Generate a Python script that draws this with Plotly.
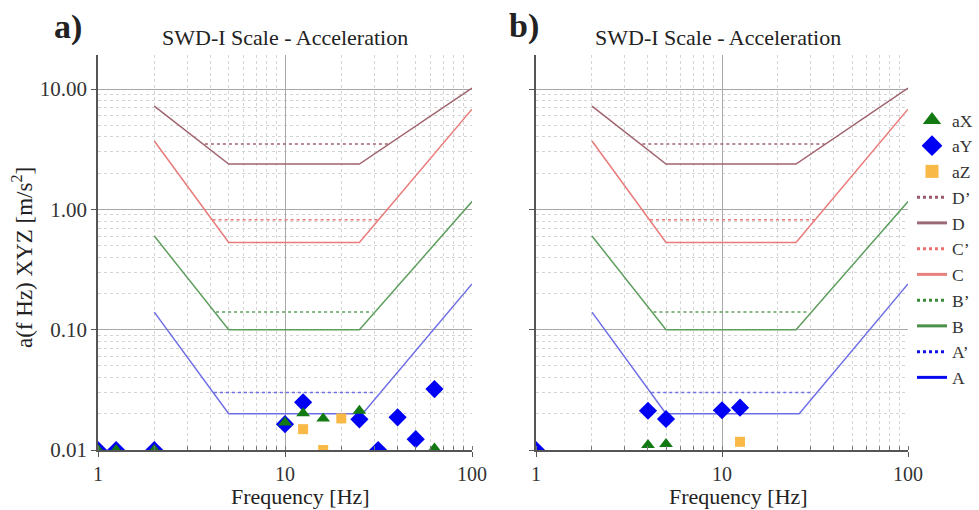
import plotly.graph_objects as go

# ---------------- data ----------------
# limit curves (frequency [Hz], acceleration [m/s^2])
freq_A = [2, 5, 26, 100]
acc_A = [0.14, 0.02, 0.02, 0.24]
freq_A1 = [4.17, 30.6]
acc_A1 = [0.03, 0.03]

freq_B = [2, 5, 25, 100]
acc_B = [0.6, 0.1, 0.1, 1.16]
freq_B1 = [4.28, 29.4]
acc_B1 = [0.14, 0.14]

freq_C = [2, 5, 25, 100]
acc_C = [3.7, 0.53, 0.53, 6.8]
freq_C1 = [4.1, 31.9]
acc_C1 = [0.82, 0.82]

freq_D = [2, 5, 25, 100]
acc_D = [7.2, 2.38, 2.38, 10.2]
freq_D1 = [3.73, 35.6]
acc_D1 = [3.5, 3.5]

# measured points, panel a)
a_fx = [1, 1.25, 2, 10, 12.5, 16, 25, 63]
a_ax = [0.01, 0.01, 0.01, 0.0169, 0.0202, 0.0183, 0.0212, 0.0103]
a_fy = [1, 1.25, 2, 10, 12.5, 25, 31.5, 40, 50, 63]
a_ay = [0.01, 0.01, 0.01, 0.0164, 0.0249, 0.018, 0.01, 0.0187, 0.0123, 0.0321]
a_fz = [12.5, 16, 20]
a_az = [0.0149, 0.01, 0.0183]

# measured points, panel b)
b_fx = [4, 5]
b_ax = [0.011, 0.0112]
b_fy = [1, 4, 5, 10, 12.5]
b_ay = [0.01, 0.0212, 0.0181, 0.0214, 0.0225]
b_fz = [12.5]
b_az = [0.0117]

y_tickvals = [0.01, 0.1, 1, 10]
y_ticktext = ["0.01", "0.10", "1.00", "10.00"]
x_tickvals = [1, 10, 100]
x_ticktext = ["1", "10", "100"]

# ---------------- styles ----------------
FONT = "Liberation Serif, Times New Roman, Times, serif"
W, H = 979, 510
col_line = {"A": "#6e6ee6", "B": "#5e9e5e", "C": "#ea7a7a", "D": "#a0646e"}
col_leg = {"A": "#0a0af0", "B": "#4a8f4a", "C": "#e98080", "D": "#9a6a76",
           "A'": "#1010e8", "B'": "#3a8a3a", "C'": "#ec7070", "D'": "#9a5a6a"}
c_x, c_y, c_z = "#137a13", "#0000f5", "#f8b946"

fig = go.Figure()

curves = [("D", freq_D, acc_D, freq_D1, acc_D1),
          ("C", freq_C, acc_C, freq_C1, acc_C1),
          ("B", freq_B, acc_B, freq_B1, acc_B1),
          ("A", freq_A, acc_A, freq_A1, acc_A1)]

panels = [("x", "y", (a_fx, a_ax), (a_fy, a_ay), (a_fz, a_az)),
          ("x2", "y2", (b_fx, b_ax), (b_fy, b_ay), (b_fz, b_az))]

for xa, ya, px, py, pz in panels:
    for name, f, a, f1, a1 in curves:
        fig.add_trace(go.Scatter(x=f, y=a, mode="lines", xaxis=xa, yaxis=ya,
                                 line=dict(color=col_line[name], width=1.5),
                                 showlegend=False, hoverinfo="skip"))
        fig.add_trace(go.Scatter(x=f1, y=a1, mode="lines", xaxis=xa, yaxis=ya,
                                 line=dict(color=col_line[name], width=1.5, dash="dot"),
                                 showlegend=False, hoverinfo="skip"))
    fig.add_trace(go.Scatter(x=pz[0], y=pz[1], mode="markers", xaxis=xa, yaxis=ya,
                             marker=dict(symbol="square", size=10, color=c_z),
                             showlegend=False))
    fig.add_trace(go.Scatter(x=py[0], y=py[1], mode="markers", xaxis=xa, yaxis=ya,
                             marker=dict(symbol="diamond", size=14, color=c_y),
                             showlegend=False))
    fig.add_trace(go.Scatter(x=px[0], y=px[1], mode="markers", xaxis=xa, yaxis=ya,
                             marker=dict(symbol="triangle-up", size=12, color=c_x),
                             showlegend=False))

# legend entries
fig.add_trace(go.Scatter(x=[None], y=[None], mode="markers", name="aX",
                         marker=dict(symbol="triangle-up", size=16, color=c_x)))
fig.add_trace(go.Scatter(x=[None], y=[None], mode="markers", name="aY",
                         marker=dict(symbol="diamond", size=18, color=c_y)))
fig.add_trace(go.Scatter(x=[None], y=[None], mode="markers", name="aZ",
                         marker=dict(symbol="square", size=13, color=c_z)))
for name in ["D", "C", "B", "A"]:
    fig.add_trace(go.Scatter(x=[None], y=[None], mode="lines", name=name + "’",
                             line=dict(color=col_leg[name + "'"], width=3, dash="dot")))
    fig.add_trace(go.Scatter(x=[None], y=[None], mode="lines", name=name,
                             line=dict(color=col_leg[name], width=3)))

# ---------------- axes ----------------
def xaxis_cfg(domain, anchor):
    return dict(type="log", range=[0, 2], domain=domain, anchor=anchor,
                tickvals=x_tickvals, ticktext=x_ticktext,
                showline=True, linecolor="#555555", linewidth=1.5,
                ticks="outside", ticklen=5, tickcolor="#555555",
                showgrid=True, gridcolor="#a8a8a8", gridwidth=1,
                minor=dict(dtick="D1", showgrid=True, gridcolor="#d4d4d4",
                           griddash="dot", gridwidth=1,
                           ticks="inside", ticklen=4, tickcolor="#777777"),
                tickfont=dict(family=FONT, size=20, color="#333333"),
                automargin=False, zeroline=False, fixedrange=True)

def yaxis_cfg(anchor, labels):
    return dict(type="log", range=[-2, 1.283], domain=[60 / H, 455 / H], anchor=anchor,
                tickvals=y_tickvals, ticktext=y_ticktext, showticklabels=labels,
                showline=True, linecolor="#555555", linewidth=1.5,
                ticks="outside", ticklen=5, tickcolor="#555555",
                showgrid=True, gridcolor="#a8a8a8", gridwidth=1,
                minor=dict(dtick="D1", showgrid=True, gridcolor="#d4d4d4",
                           griddash="dot", gridwidth=1),
                tickfont=dict(family=FONT, size=21, color="#333333"),
                automargin=False, zeroline=False, fixedrange=True)

fig.update_layout(
    width=W, height=H,
    margin=dict(l=0, r=0, t=0, b=0, autoexpand=False),
    paper_bgcolor="white", plot_bgcolor="white",
    font=dict(family=FONT, color="#333333"),
    xaxis=xaxis_cfg([98 / W, 472 / W], "y"),
    yaxis=yaxis_cfg("x", True),
    xaxis2=xaxis_cfg([536 / W, 908 / W], "y2"),
    yaxis2=yaxis_cfg("x2", False),
    legend=dict(x=912 / W, y=1 - 102 / H, xanchor="left", yanchor="top",
                font=dict(family=FONT, size=17.5, color="#333333"),
                bgcolor="rgba(0,0,0,0)", itemwidth=30, tracegroupgap=0),
    showlegend=True,
)

def ann(text, xp, yp, size, bold=False, angle=0):
    fig.add_annotation(text=("<b>%s</b>" % text) if bold else text,
                       x=xp / W, y=1 - yp / H, xref="paper", yref="paper",
                       xanchor="center", yanchor="middle", showarrow=False,
                       textangle=angle,
                       font=dict(family=FONT, size=size, color="#222222"))

ann("a)", 68, 27, 34, bold=True)
ann("b)", 524, 26, 34, bold=True)
ann("SWD-I Scale - Acceleration", 285, 38, 22)
ann("SWD-I Scale - Acceleration", 718, 38, 22)
ann("Frequency [Hz]", 300, 496, 22)
ann("Frequency [Hz]", 738, 496, 22)
ann("a(f Hz) XYZ [m/s<sup>2</sup>]", 22, 258, 23, angle=-90)

fig.write_html("out.html")
